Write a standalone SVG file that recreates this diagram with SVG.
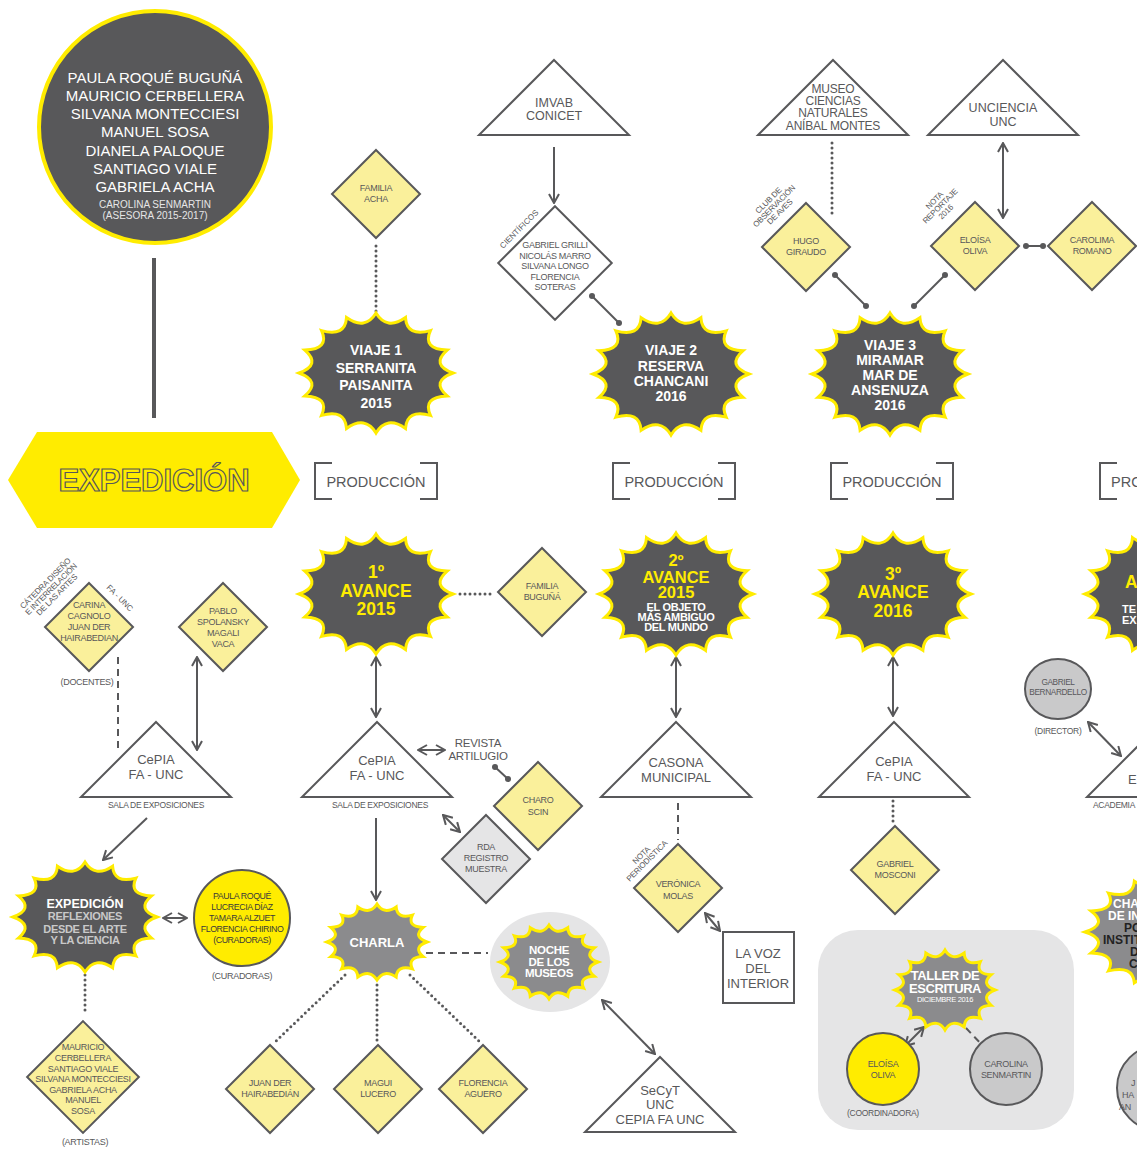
<svg xmlns="http://www.w3.org/2000/svg" xmlns:xlink="http://www.w3.org/1999/xlink" width="1137" height="1149" viewBox="0 0 1137 1149">
<style>
.t{font-family:"Liberation Sans",Arial,Helvetica,sans-serif;text-anchor:middle;fill:#58585a}
.w{fill:#fff}
.y{fill:#ffec00}
.b{font-weight:bold}
.d{font-size:9px;letter-spacing:-0.3px}
.bd{fill:#58585a;stroke:#ffec00;stroke-width:3}
.bg{fill:#8b8b8d;stroke:#ffec00;stroke-width:3}
.dy{fill:#faf09b;stroke:#58585a;stroke-width:2}
.dw{fill:#fff;stroke:#58585a;stroke-width:2}
.dg{fill:#e5e5e6;stroke:#58585a;stroke-width:2}
.tri{fill:#fff;stroke:#58585a;stroke-width:2}
.br{fill:none;stroke:#58585a;stroke-width:2}
.c{fill:none;stroke:#58585a;stroke-width:2}
.dot{fill:none;stroke:#58585a;stroke-width:3;stroke-dasharray:0 5;stroke-linecap:round}
.dash{fill:none;stroke:#58585a;stroke-width:2;stroke-dasharray:7 5}
.a2{marker-start:url(#ah);marker-end:url(#ah)}
.a1{marker-end:url(#ah)}
.dd{marker-start:url(#dt);marker-end:url(#dt)}
</style>
<defs>
<marker id="ah" viewBox="0 0 12 12" refX="11" refY="6" markerWidth="12" markerHeight="12" orient="auto-start-reverse" markerUnits="userSpaceOnUse"><path d="M2,1 L11,6 L2,11" fill="none" stroke="#58585a" stroke-width="2"/></marker>
<marker id="dt" viewBox="0 0 8 8" refX="4" refY="4" markerWidth="8" markerHeight="8" markerUnits="userSpaceOnUse"><circle cx="4" cy="4" r="3" fill="#58585a"/></marker>
<path id="burst" vector-effect="non-scaling-stroke" d="M100,0Q70.6,14 92.4,38.3Q59.9,40 70.7,70.7Q40,59.9 38.3,92.4Q14,70.6 0,100Q-14,70.6 -38.3,92.4Q-40,59.9 -70.7,70.7Q-59.9,40 -92.4,38.3Q-70.6,14 -100,0Q-70.6,-14 -92.4,-38.3Q-59.9,-40 -70.7,-70.7Q-40,-59.9 -38.3,-92.4Q-14,-70.6 0,-100Q14,-70.6 38.3,-92.4Q40,-59.9 70.7,-70.7Q59.9,-40 92.4,-38.3Q70.6,-14 100,0Z"/>
<path id="dia" vector-effect="non-scaling-stroke" d="M0,-44L44,0L0,44L-44,0Z"/>
<path id="tri" vector-effect="non-scaling-stroke" d="M0,0L75,75L-75,75Z"/>
<path id="brk" d="M17,0H0V36H17M105,0H122V36H105"/>
</defs>
<rect width="1137" height="1149" fill="#fff"/>

<g id="taller-panel"><rect x="818" y="930" width="256" height="200" rx="40" fill="#e5e5e6"/></g>

<g id="connectors">
<line x1="154" y1="258" x2="154" y2="418" stroke="#58585a" stroke-width="4"/>
<line class="dot" x1="376" y1="246" x2="376" y2="318"/>
<line class="c a1" x1="554" y1="147" x2="554" y2="203"/>
<line class="c dd" x1="592" y1="296" x2="619" y2="323"/>
<line class="dot" x1="832" y1="143" x2="832" y2="218"/>
<line class="c dd" x1="835" y1="275" x2="866" y2="306"/>
<line class="c dd" x1="945" y1="275" x2="914" y2="306"/>
<line class="c a2" x1="1003" y1="143" x2="1003" y2="218"/>
<line class="c dd" x1="1026" y1="246" x2="1043" y2="246"/>
<line class="dot" x1="460" y1="594" x2="492" y2="594"/>
<line class="c a2" x1="376" y1="657" x2="376" y2="717"/>
<line class="c a2" x1="676" y1="657" x2="676" y2="717"/>
<line class="c a2" x1="893" y1="657" x2="893" y2="716"/>
<line class="c a2" x1="418" y1="750" x2="445" y2="750"/>
<line class="c dd" x1="495" y1="767" x2="508" y2="779"/>
<line class="c a2" x1="443" y1="815" x2="460" y2="832"/>
<line class="c a1" x1="376" y1="818" x2="376" y2="900"/>
<line class="dash" x1="426" y1="953" x2="488" y2="953"/>
<line class="dot" x1="345" y1="975" x2="275" y2="1042"/>
<line class="dot" x1="377" y1="985" x2="377" y2="1042"/>
<line class="dot" x1="410" y1="975" x2="480" y2="1042"/>
<line class="dash" x1="678" y1="803" x2="678" y2="840"/>
<line class="c a2" x1="705" y1="913" x2="720" y2="931"/>
<line class="c a2" x1="602" y1="1000" x2="655" y2="1054"/>
<line class="dot" x1="893" y1="801" x2="893" y2="825"/>
<line class="c a2" x1="905" y1="1046" x2="924" y2="1027"/>
<line class="dash" x1="966" y1="1028" x2="984" y2="1047"/>
<line class="dash" x1="118" y1="657" x2="118" y2="748"/>
<line class="c a2" x1="197" y1="657" x2="197" y2="750"/>
<line class="c a1" x1="147" y1="818" x2="103" y2="860"/>
<line class="c a2" x1="163" y1="918" x2="187" y2="918"/>
<line class="dot" x1="85" y1="975" x2="85" y2="1015"/>
<line class="c a2" x1="1088" y1="722" x2="1121" y2="756"/>
</g>

<g id="team">
<circle cx="155" cy="127" r="116" fill="#58585a" stroke="#ffec00" stroke-width="4"/>
<text class="t w" font-size="15"><tspan x="155" y="83">PAULA ROQUÉ BUGUÑÁ</tspan><tspan x="155" y="101">MAURICIO CERBELLERA</tspan><tspan x="155" y="119">SILVANA MONTECCIESI</tspan><tspan x="155" y="137">MANUEL SOSA</tspan><tspan x="155" y="156">DIANELA PALOQUE</tspan><tspan x="155" y="174">SANTIAGO VIALE</tspan><tspan x="155" y="192">GABRIELA ACHA</tspan></text>
<text class="t" style="fill:#e6e6e6" font-size="10"><tspan x="155" y="208">CAROLINA SENMARTIN</tspan><tspan x="155" y="219">(ASESORA 2015-2017)</tspan></text>
</g>

<g id="expedicion-banner">
<polygon points="8,480 37,432 272,432 300,480 272,528 37,528" fill="#ffec00"/>
<text x="154" y="491" class="t b" font-size="31" style="fill:#ffec00;stroke:#58585a;stroke-width:1.2">EXPEDICIÓN</text>
</g>

<g id="produccion-1"><use href="#brk" class="br" transform="translate(315,463)"/><text x="376" y="487" class="t" font-size="14.5">PRODUCCIÓN</text></g>
<g id="produccion-2"><use href="#brk" class="br" transform="translate(613,463)"/><text x="674" y="487" class="t" font-size="14.5">PRODUCCIÓN</text></g>
<g id="produccion-3"><use href="#brk" class="br" transform="translate(831,463)"/><text x="892" y="487" class="t" font-size="14.5">PRODUCCIÓN</text></g>
<g id="produccion-4"><use href="#brk" class="br" transform="translate(1100,463)"/><text x="1111" y="487" class="t" style="text-anchor:start" font-size="14.5">PRO</text></g>

<g id="familia-acha"><use href="#dia" class="dy" transform="translate(376,194)"/><text class="t d"><tspan x="376" y="191">FAMILIA</tspan><tspan x="376" y="202">ACHA</tspan></text></g>

<g id="imvab"><use href="#tri" class="tri" transform="translate(554,60)"/><text class="t" font-size="12.5"><tspan x="554" y="107">IMVAB</tspan><tspan x="554" y="120">CONICET</tspan></text></g>

<g id="cientificos"><use href="#dia" class="dw" transform="translate(555,263) scale(1.29)"/>
<text class="t d"><tspan x="555" y="248">GABRIEL GRILLI</tspan><tspan x="555" y="258.5">NICOLÁS MARRO</tspan><tspan x="555" y="269">SILVANA LONGO</tspan><tspan x="555" y="279.5">FLORENCIA</tspan><tspan x="555" y="290">SOTERAS</tspan></text>
<text class="t" font-size="8" transform="translate(521,231) rotate(-45)">CIENTÍFICOS</text></g>

<g id="museo"><use href="#tri" class="tri" transform="translate(833,60)"/><text class="t" font-size="12" letter-spacing="-0.2"><tspan x="833" y="93">MUSEO</tspan><tspan x="833" y="105">CIENCIAS</tspan><tspan x="833" y="117">NATURALES</tspan><tspan x="833" y="129.5">ANÍBAL MONTES</tspan></text></g>

<g id="hugo-giraudo"><use href="#dia" class="dy" transform="translate(806,247)"/><text class="t d"><tspan x="806" y="244">HUGO</tspan><tspan x="806" y="255">GIRAUDO</tspan></text>
<text class="t" font-size="8" letter-spacing="-0.2" transform="translate(776,208) rotate(-45)"><tspan x="0" y="-8">CLUB DE</tspan><tspan x="0" y="0">OBSERVACIÓN</tspan><tspan x="0" y="8">DE AVES</tspan></text></g>

<g id="unciencia"><use href="#tri" class="tri" transform="translate(1003,60)"/><text class="t" font-size="12.5"><tspan x="1003" y="112">UNCIENCIA</tspan><tspan x="1003" y="126">UNC</tspan></text></g>

<g id="eloisa-oliva"><use href="#dia" class="dy" transform="translate(975,246)"/><text class="t d"><tspan x="975" y="243">ELOÍSA</tspan><tspan x="975" y="254">OLIVA</tspan></text>
<text class="t" font-size="8" letter-spacing="-0.2" transform="translate(942,208) rotate(-45)"><tspan x="0" y="-8">NOTA</tspan><tspan x="0" y="0">REPORTAJE</tspan><tspan x="0" y="8">2016</tspan></text></g>

<g id="carolima-romano"><use href="#dia" class="dy" transform="translate(1092,246)"/><text class="t d"><tspan x="1092" y="243">CAROLIMA</tspan><tspan x="1092" y="254">ROMANO</tspan></text></g>

<g id="viaje-1"><use href="#burst" class="bd" transform="translate(376,373) scale(0.77,0.6)"/><text class="t w b" font-size="14"><tspan x="376" y="355">VIAJE 1</tspan><tspan x="376" y="373">SERRANITA</tspan><tspan x="376" y="390">PAISANITA</tspan><tspan x="376" y="408">2015</tspan></text></g>

<g id="viaje-2"><use href="#burst" class="bd" transform="translate(671,374) scale(0.78,0.61)"/><text class="t w b" font-size="14"><tspan x="671" y="355">VIAJE 2</tspan><tspan x="671" y="371">RESERVA</tspan><tspan x="671" y="386">CHANCANI</tspan><tspan x="671" y="401">2016</tspan></text></g>

<g id="viaje-3"><use href="#burst" class="bd" transform="translate(890,374) scale(0.78,0.61)"/><text class="t w b" font-size="14"><tspan x="890" y="350">VIAJE 3</tspan><tspan x="890" y="365">MIRAMAR</tspan><tspan x="890" y="380">MAR DE</tspan><tspan x="890" y="395">ANSENUZA</tspan><tspan x="890" y="410">2016</tspan></text></g>

<g id="avance-1"><use href="#burst" class="bd" transform="translate(376,594) scale(0.77,0.6)"/><text class="t y b" font-size="17.5"><tspan x="376" y="578">1º</tspan><tspan x="376" y="597">AVANCE</tspan><tspan x="376" y="615">2015</tspan></text></g>

<g id="familia-bugunia"><use href="#dia" class="dy" transform="translate(542,592)"/><text class="t d"><tspan x="542" y="589">FAMILIA</tspan><tspan x="542" y="600">BUGUÑÁ</tspan></text></g>

<g id="avance-2"><use href="#burst" class="bd" transform="translate(676,594) scale(0.77,0.61)"/><text class="t y b" font-size="16.5"><tspan x="676" y="566">2º</tspan><tspan x="676" y="583">AVANCE</tspan><tspan x="676" y="598">2015</tspan></text><text class="t w b" font-size="11" letter-spacing="-0.3"><tspan x="676" y="611">EL OBJETO</tspan><tspan x="676" y="621">MÁS AMBIGUO</tspan><tspan x="676" y="631">DEL MUNDO</tspan></text></g>

<g id="avance-3"><use href="#burst" class="bd" transform="translate(893,594) scale(0.78,0.61)"/><text class="t y b" font-size="17.5"><tspan x="893" y="580">3º</tspan><tspan x="893" y="598">AVANCE</tspan><tspan x="893" y="617">2016</tspan></text></g>

<g id="avance-4"><use href="#burst" class="bd" transform="translate(1162,594) scale(0.77,0.61)"/><text x="1125" y="588" class="t y b" style="text-anchor:start" font-size="17.5">A</text><text class="t w b" style="text-anchor:start" font-size="11"><tspan x="1122" y="613">TE</tspan><tspan x="1122" y="624">EX</tspan></text></g>

<g id="cepia-left"><use href="#tri" class="tri" transform="translate(156,722)"/><text class="t" font-size="13"><tspan x="156" y="764">CePIA</tspan><tspan x="156" y="779">FA - UNC</tspan></text><text x="156" y="808" class="t" font-size="8.5" letter-spacing="-0.3">SALA DE EXPOSICIONES</text></g>

<g id="carina-cagnolo"><use href="#dia" class="dy" transform="translate(89,627)"/><text class="t d"><tspan x="89" y="608">CARINA</tspan><tspan x="89" y="619">CAGNOLO</tspan><tspan x="89" y="630">JUAN DER</tspan><tspan x="89" y="641">HAIRABEDIAN</tspan></text>
<text class="t" font-size="8" letter-spacing="-0.2" transform="translate(53,591) rotate(-45)"><tspan x="0" y="-8">CÁTEDRA DISEÑO</tspan><tspan x="0" y="0">E INTERRELACIÓN</tspan><tspan x="0" y="8">DE LAS ARTES</tspan></text>
<text class="t" font-size="8" transform="translate(118,600) rotate(45)">FA - UNC</text>
<text x="87" y="685" class="t" font-size="9" letter-spacing="-0.3">(DOCENTES)</text></g>

<g id="pablo-spolansky"><use href="#dia" class="dy" transform="translate(223,627)"/><text class="t d"><tspan x="223" y="614">PABLO</tspan><tspan x="223" y="625">SPOLANSKY</tspan><tspan x="223" y="636">MAGALI</tspan><tspan x="223" y="647">VACA</tspan></text></g>

<g id="expedicion-muestra"><use href="#burst" class="bd" transform="translate(85,917) scale(0.72,0.55)"/><text class="t w b" font-size="12.5"><tspan x="85" y="908">EXPEDICIÓN</tspan></text><text class="t b" style="fill:#c9c9c9" font-size="11" letter-spacing="-0.3"><tspan x="85" y="920">REFLEXIONES</tspan><tspan x="85" y="933">DESDE EL ARTE</tspan><tspan x="85" y="944">Y LA CIENCIA</tspan></text></g>

<g id="curadoras"><circle cx="242" cy="918" r="48" fill="#ffec00" stroke="#58585a" stroke-width="2"/><text class="t" style="fill:#3a3a3a" font-size="8.8" letter-spacing="-0.4"><tspan x="242" y="899">PAULA ROQUÉ</tspan><tspan x="242" y="910">LUCRECIA DÍAZ</tspan><tspan x="242" y="921">TAMARA ALZUET</tspan><tspan x="242" y="932">FLORENCIA CHIRINO</tspan><tspan x="242" y="943">(CURADORAS)</tspan></text><text x="242" y="979" class="t" font-size="9" letter-spacing="-0.3">(CURADORAS)</text></g>

<g id="artistas"><use href="#dia" class="dy" transform="translate(83,1077) scale(1.27)"/><text class="t d"><tspan x="83" y="1050">MAURICIO</tspan><tspan x="83" y="1061">CERBELLERA</tspan><tspan x="83" y="1071.5">SANTIAGO VIALE</tspan><tspan x="83" y="1082">SILVANA MONTECCIESI</tspan><tspan x="83" y="1092.5">GABRIELA ACHA</tspan><tspan x="83" y="1103">MANUEL</tspan><tspan x="83" y="1114">SOSA</tspan></text><text x="85" y="1145" class="t" font-size="9" letter-spacing="-0.3">(ARTISTAS)</text></g>

<g id="cepia-mid"><use href="#tri" class="tri" transform="translate(377,722)"/><text class="t" font-size="13"><tspan x="377" y="765">CePIA</tspan><tspan x="377" y="780">FA - UNC</tspan></text><text x="380" y="808" class="t" font-size="8.5" letter-spacing="-0.3">SALA DE EXPOSICIONES</text></g>

<g id="revista-artilugio"><text class="t" font-size="11.5" letter-spacing="-0.3"><tspan x="478" y="747">REVISTA</tspan><tspan x="478" y="760">ARTILUGIO</tspan></text></g>

<g id="charo-scin"><use href="#dia" class="dy" transform="translate(538,806)"/><text class="t d"><tspan x="538" y="803">CHARO</tspan><tspan x="538" y="815">SCIN</tspan></text></g>

<g id="rda"><use href="#dia" class="dg" transform="translate(486,859)"/><text class="t d"><tspan x="486" y="850">RDA</tspan><tspan x="486" y="861">REGISTRO</tspan><tspan x="486" y="872">MUESTRA</tspan></text></g>

<g id="charla"><use href="#burst" class="bg" transform="translate(377,942) scale(0.5,0.38)"/><text x="377" y="947" class="t w b" font-size="13">CHARLA</text></g>

<g id="noche-museos"><ellipse cx="550" cy="962" rx="60" ry="50" fill="#e5e5e6"/><use href="#burst" class="bg" transform="translate(549,962) scale(0.49,0.37)"/><text class="t w b" font-size="11.5" letter-spacing="-0.3"><tspan x="549" y="954">NOCHE</tspan><tspan x="549" y="965.5">DE LOS</tspan><tspan x="549" y="977">MUSEOS</tspan></text></g>

<g id="juan-der"><use href="#dia" class="dy" transform="translate(270,1089)"/><text class="t d"><tspan x="270" y="1086">JUAN DER</tspan><tspan x="270" y="1097">HAIRABEDIÁN</tspan></text></g>
<g id="magui-lucero"><use href="#dia" class="dy" transform="translate(378,1089)"/><text class="t d"><tspan x="378" y="1086">MAGUI</tspan><tspan x="378" y="1097">LUCERO</tspan></text></g>
<g id="florencia-aguero"><use href="#dia" class="dy" transform="translate(483,1089)"/><text class="t d"><tspan x="483" y="1086">FLORENCIA</tspan><tspan x="483" y="1097">AGUERO</tspan></text></g>

<g id="casona"><use href="#tri" class="tri" transform="translate(676,722)"/><text class="t" font-size="13"><tspan x="676" y="767">CASONA</tspan><tspan x="676" y="782">MUNICIPAL</tspan></text></g>

<g id="veronica-molas"><use href="#dia" class="dy" transform="translate(678,888)"/><text class="t d"><tspan x="678" y="887">VERÓNICA</tspan><tspan x="678" y="899">MOLAS</tspan></text>
<text class="t" font-size="8" letter-spacing="-0.2" transform="translate(646,860) rotate(-45)"><tspan x="0" y="-4">NOTA</tspan><tspan x="0" y="4">PERIODÍSTICA</tspan></text></g>

<g id="la-voz"><rect x="723" y="932" width="71" height="71" fill="#fff" stroke="#58585a" stroke-width="2"/><text class="t" font-size="13"><tspan x="758" y="958">LA VOZ</tspan><tspan x="758" y="973">DEL</tspan><tspan x="758" y="988">INTERIOR</tspan></text></g>

<g id="secyt"><use href="#tri" class="tri" transform="translate(660,1057)"/><text class="t" font-size="13"><tspan x="660" y="1095">SeCyT</tspan><tspan x="660" y="1109">UNC</tspan><tspan x="660" y="1124">CEPIA FA UNC</tspan></text></g>

<g id="cepia-3"><use href="#tri" class="tri" transform="translate(894,722)"/><text class="t" font-size="13"><tspan x="894" y="766">CePIA</tspan><tspan x="894" y="781">FA - UNC</tspan></text></g>

<g id="gabriel-mosconi"><use href="#dia" class="dy" transform="translate(895,870)"/><text class="t d"><tspan x="895" y="867">GABRIEL</tspan><tspan x="895" y="878">MOSCONI</tspan></text></g>

<g id="taller-escritura">
<use href="#burst" class="bg" transform="translate(945,990) scale(0.5,0.4)"/>
<text class="t w b" font-size="13" letter-spacing="-0.4"><tspan x="945" y="980">TALLER DE</tspan><tspan x="945" y="992.5">ESCRITURA</tspan></text>
<text x="945" y="1002" class="t w" font-size="7.5" letter-spacing="-0.3">DICIEMBRE 2016</text>
</g>

<g id="eloisa-coordinadora"><circle cx="883" cy="1069" r="36" fill="#ffec00" stroke="#58585a" stroke-width="2"/><text class="t d"><tspan x="883" y="1067">ELOÍSA</tspan><tspan x="883" y="1078">OLIVA</tspan></text><text x="883" y="1116" class="t" font-size="8.5" letter-spacing="-0.3">(COORDINADORA)</text></g>

<g id="carolina-senmartin"><circle cx="1006" cy="1069" r="36" fill="#c9c9ca" stroke="#58585a" stroke-width="2"/><text class="t d"><tspan x="1006" y="1067">CAROLINA</tspan><tspan x="1006" y="1078">SENMARTIN</tspan></text></g>

<g id="gabriel-bernardello"><ellipse cx="1058" cy="689" rx="33" ry="30" fill="#c9c9ca" stroke="#58585a" stroke-width="2"/><text class="t" font-size="8.3" letter-spacing="-0.4"><tspan x="1058" y="685">GABRIEL</tspan><tspan x="1058" y="695">BERNARDELLO</tspan></text><text x="1058" y="734" class="t" font-size="8.5" letter-spacing="-0.3">(DIRECTOR)</text></g>

<g id="academia"><use href="#tri" class="tri" transform="translate(1162,722)"/><text x="1128" y="784" class="t" style="text-anchor:start" font-size="13">E</text><text x="1093" y="808" class="t" style="text-anchor:start" font-size="8.5" letter-spacing="-0.3">ACADEMIA</text></g>

<g id="charla-institucional"><use href="#burst" class="bg" transform="translate(1165,932) scale(0.8,0.55)"/><text class="t w b" style="text-anchor:start" font-size="12"><tspan x="1113" y="908">CHA</tspan><tspan x="1108" y="920">DE IN</tspan></text><text class="t b" style="text-anchor:start;fill:#222" font-size="12"><tspan x="1124" y="932">PO</tspan><tspan x="1103" y="944">INSTIT</tspan><tspan x="1130" y="956">D</tspan><tspan x="1129" y="968">C</tspan></text></g>

<g id="circulo-derecha"><circle cx="1160" cy="1088" r="43" fill="#c9c9ca" stroke="#58585a" stroke-width="2"/><text class="t d" style="text-anchor:start"><tspan x="1131" y="1086">J</tspan><tspan x="1122" y="1098">HA</tspan><tspan x="1119" y="1110">AN</tspan></text></g>
</svg>
